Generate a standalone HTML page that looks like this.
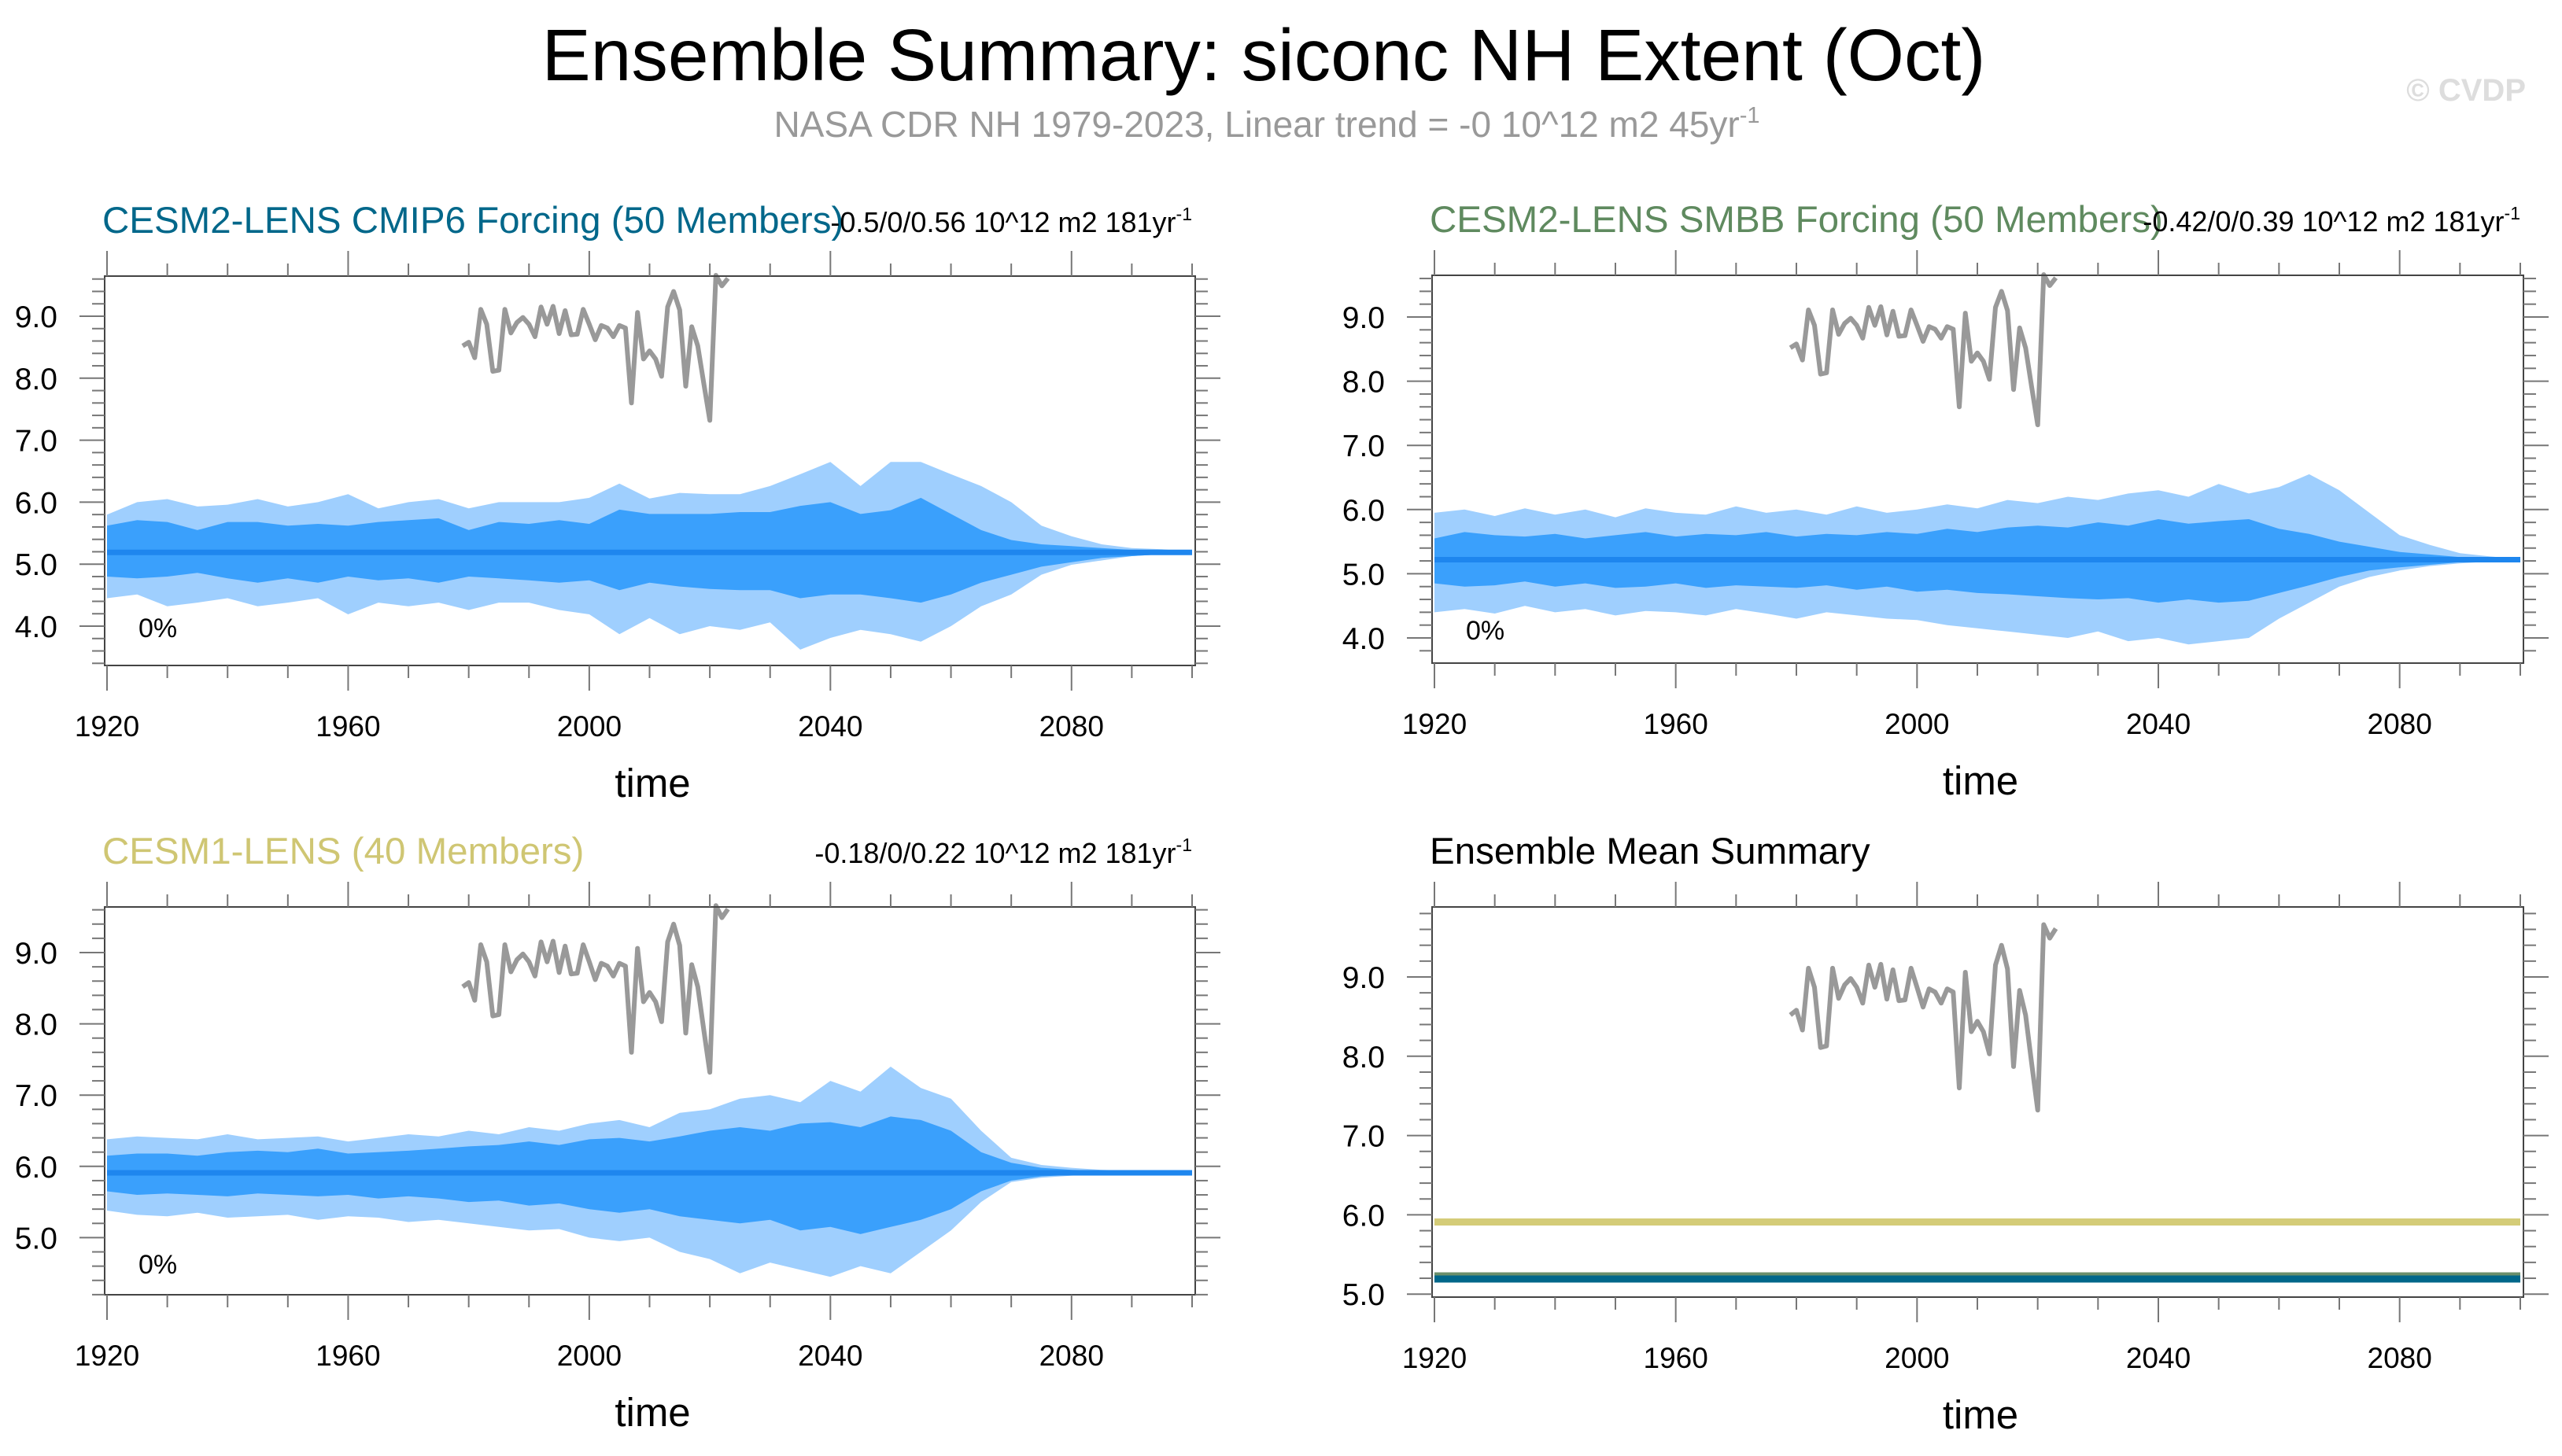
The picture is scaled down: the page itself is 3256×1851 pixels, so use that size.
<!DOCTYPE html>
<html><head><meta charset="utf-8">
<style>
html,body{margin:0;padding:0;background:#fff;}
svg{display:block;font-family:"Liberation Sans",sans-serif;}
</style></head>
<body>
<svg id="fig" width="3256" height="1851" viewBox="0 0 3256 1851" xmlns="http://www.w3.org/2000/svg">
<text x="1606" y="102" font-size="93" text-anchor="middle" fill="#000">Ensemble Summary: siconc NH Extent (Oct)</text>
<text x="1610" y="174" font-size="46" text-anchor="middle" fill="#999">NASA CDR NH 1979-2023, Linear trend = -0 10^12 m2 45yr<tspan font-size="29" dy="-18">-1</tspan></text>
<text x="3210" y="128" font-size="40" font-weight="bold" text-anchor="end" fill="#ddd">© CVDP</text>
</svg>
<script>
// ---- data ----
const bandYears = [1920,1925,1930,1935,1940,1945,1950,1955,1960,1965,1970,1975,1980,1985,1990,1995,2000,2005,2010,2015,2020,2025,2030,2035,2040,2045,2050,2055,2060,2065,2070,2075,2080,2085,2090,2095,2100];
const p1OuterHi = [5.8,6.0,6.05,5.93,5.96,6.05,5.93,6.0,6.13,5.9,6.0,6.05,5.9,6.0,6.0,6.0,6.07,6.3,6.06,6.15,6.13,6.13,6.26,6.45,6.65,6.26,6.65,6.65,6.45,6.26,6.0,5.62,5.45,5.32,5.26,5.24,5.2];
const p1InnerHi = [5.62,5.71,5.68,5.55,5.68,5.68,5.62,5.65,5.62,5.68,5.71,5.74,5.55,5.68,5.65,5.71,5.65,5.88,5.81,5.81,5.81,5.84,5.84,5.94,6.0,5.81,5.87,6.07,5.81,5.55,5.39,5.32,5.29,5.26,5.23,5.21,5.2];
const p1InnerLo = [4.8,4.77,4.8,4.86,4.77,4.7,4.77,4.7,4.8,4.74,4.77,4.7,4.8,4.77,4.74,4.7,4.74,4.58,4.7,4.64,4.6,4.58,4.58,4.45,4.51,4.51,4.45,4.38,4.51,4.7,4.83,4.96,5.03,5.1,5.13,5.16,5.19];
const p1OuterLo = [4.45,4.51,4.32,4.38,4.45,4.32,4.38,4.45,4.19,4.38,4.32,4.38,4.26,4.38,4.38,4.26,4.19,3.87,4.13,3.87,4.0,3.94,4.06,3.62,3.81,3.94,3.87,3.75,4.0,4.32,4.51,4.83,4.99,5.06,5.13,5.16,5.19];
const p1Mean = 5.19;
const p2OuterHi = [5.95,6.0,5.9,6.02,5.92,6.0,5.88,6.02,5.95,5.92,6.05,5.95,6.0,5.92,6.05,5.95,6.0,6.08,6.02,6.15,6.1,6.2,6.15,6.25,6.3,6.2,6.4,6.25,6.35,6.55,6.3,5.95,5.6,5.45,5.32,5.27,5.23];
const p2InnerHi = [5.55,5.65,5.6,5.58,5.62,5.55,5.6,5.65,5.58,5.62,5.6,5.65,5.58,5.62,5.6,5.65,5.62,5.7,5.65,5.72,5.75,5.72,5.8,5.75,5.85,5.78,5.82,5.85,5.7,5.62,5.5,5.42,5.34,5.3,5.26,5.24,5.23];
const p2InnerLo = [4.85,4.8,4.82,4.88,4.8,4.85,4.78,4.8,4.85,4.78,4.82,4.8,4.78,4.82,4.75,4.8,4.72,4.75,4.7,4.68,4.65,4.62,4.6,4.62,4.55,4.6,4.55,4.58,4.7,4.82,4.95,5.05,5.1,5.14,5.18,5.2,5.22];
const p2OuterLo = [4.4,4.45,4.38,4.5,4.4,4.45,4.35,4.42,4.4,4.35,4.45,4.38,4.3,4.4,4.35,4.3,4.28,4.2,4.15,4.1,4.05,4.0,4.1,3.95,4.0,3.9,3.95,4.0,4.3,4.55,4.8,4.95,5.05,5.12,5.16,5.19,5.22];
const p2Mean = 5.22;
const p3OuterHi = [6.38,6.42,6.4,6.38,6.45,6.38,6.4,6.42,6.35,6.4,6.45,6.42,6.5,6.45,6.55,6.5,6.6,6.65,6.55,6.75,6.8,6.95,7.0,6.9,7.2,7.05,7.4,7.1,6.95,6.5,6.12,6.02,5.98,5.95,5.94,5.92,5.91];
const p3InnerHi = [6.15,6.18,6.18,6.15,6.2,6.22,6.2,6.25,6.18,6.2,6.22,6.25,6.28,6.3,6.35,6.3,6.38,6.4,6.35,6.42,6.5,6.55,6.5,6.6,6.62,6.55,6.7,6.65,6.5,6.2,6.05,5.98,5.95,5.94,5.93,5.92,5.91];
const p3InnerLo = [5.65,5.6,5.62,5.6,5.58,5.62,5.6,5.58,5.6,5.55,5.58,5.55,5.5,5.52,5.45,5.48,5.4,5.35,5.4,5.3,5.25,5.2,5.25,5.1,5.15,5.05,5.15,5.25,5.4,5.65,5.8,5.86,5.88,5.89,5.9,5.91,5.91];
const p3OuterLo = [5.38,5.32,5.3,5.35,5.28,5.3,5.32,5.25,5.3,5.28,5.22,5.25,5.2,5.15,5.1,5.12,5.0,4.95,5.0,4.8,4.7,4.5,4.65,4.55,4.45,4.6,4.5,4.8,5.1,5.5,5.78,5.84,5.87,5.89,5.9,5.9,5.91];
const p3Mean = 5.91;
const obsYears = [1979,1980,1981,1982,1983,1984,1985,1986,1987,1988,1989,1990,1991,1992,1993,1994,1995,1996,1997,1998,1999,2000,2001,2002,2003,2004,2005,2006,2007,2008,2009,2010,2011,2012,2013,2014,2015,2016,2017,2018,2019,2020,2021,2022,2023];
const obsValues = [8.52,8.58,8.33,9.11,8.87,8.11,8.13,9.11,8.73,8.9,8.98,8.87,8.67,9.15,8.87,9.16,8.72,9.09,8.7,8.71,9.11,8.87,8.62,8.85,8.81,8.67,8.85,8.81,7.6,9.06,8.31,8.44,8.31,8.03,9.15,9.4,9.1,7.87,8.83,8.52,7.91,7.32,9.66,9.49,9.61];
const meanLabels = ["CESM2-LENS CMIP6 Forcing","CESM2-LENS SMBB Forcing","CESM1-LENS"];
const meanValues = [5.19,5.23,5.91];
const xTickLabels = ["1920","1960","2000","2040","2080"];
const xTickYears = [1920,1960,2000,2040,2080];

// ---- layout ----
const NS = "http://www.w3.org/2000/svg";
const fig = document.getElementById('fig');
function mk(tag, attrs, parent){ const e=document.createElementNS(NS,tag); for(const k in attrs) e.setAttribute(k,attrs[k]); (parent||fig).appendChild(e); return e; }

function makePanel(p){
  const g = mk('g',{});
  
  
  const xs = yr => p.x0 + (yr-1920)*(p.x1-p.x0)/180;
  const ys = v => p.y9 + (9-v)*p.u;
  p.xs=xs; p.ys=ys; p.g=g;
  if(p.bands){
    const b=p.bands;
    const poly=(hi,lo,fill,nm)=>{
      let d='';
      bandYears.forEach((yr,i)=>{ d+=(i?'L':'M')+xs(yr).toFixed(1)+','+ys(hi[i]).toFixed(1); });
      for(let i=bandYears.length-1;i>=0;i--) d+='L'+xs(bandYears[i]).toFixed(1)+','+ys(lo[i]).toFixed(1);
      const e=mk('path',{d:d+'Z',fill:fill},g);
      
      
    };
    poly(b[0],b[3],'#9fcffe','outer-spread-band');
    poly(b[1],b[2],'#3aa0fc','inner-spread-band');
    const m=mk('line',{x1:xs(1920),x2:xs(2100),y1:ys(p.mean),y2:ys(p.mean),stroke:'#1e86ee','stroke-width':7},g);
    
    
    const pc=mk('text',{x:p.x0+40,y:p.ys(p.pcY)+14,'font-size':34,fill:'#000'},g);
    pc.textContent='0%';
    
    
  }
  if(p.means){
    const cols=['#00678a','#6a8f6a','#d4cc78'];
    [2,1,0].forEach(i=>{
      const l=mk('line',{x1:xs(1920),x2:xs(2100),y1:ys(meanValues[i]),y2:ys(meanValues[i]),stroke:cols[i],'stroke-width':9},g);
      
      
    });
  }
  let d='';
  obsYears.forEach((yr,i)=>{ d+=(i?'L':'M')+xs(yr).toFixed(1)+','+ys(obsValues[i]).toFixed(1); });
  const ob=mk('path',{d:d,fill:'none',stroke:'#999','stroke-width':6,'stroke-linejoin':'round'},g);
  
  
  const bx0=p.x0-3, bx1=p.x1+4;
  const fr=mk('rect',{x:bx0,y:p.top,width:bx1-bx0,height:p.bot-p.top,fill:'none',stroke:'#444','stroke-width':2},g);
  
  
  for(let yr=1920; yr<=2100; yr+=10){
    const X=xs(yr);
    const len=(yr%40===0)?32:16;
    mk('line',{x1:X,x2:X,y1:p.bot,y2:p.bot+len,stroke:'#777','stroke-width':2},g);
    mk('line',{x1:X,x2:X,y1:p.top,y2:p.top-len,stroke:'#777','stroke-width':2},g);
  }
  xTickYears.forEach((yr,i)=>{
    const t=mk('text',{x:xs(yr),y:p.bot+90,'font-size':37,'text-anchor':'middle',fill:'#000'},g);
    t.textContent=xTickLabels[i];
    
    
  });
  const tt=mk('text',{x:(p.x0+p.x1)/2+4,y:p.bot+167,'font-size':51,'text-anchor':'middle',fill:'#000'},g);
  tt.textContent='time';
  
  
  const vmin=9-(p.bot-p.y9)/p.u, vmax=9+(p.y9-p.top)/p.u;
  for(let k=Math.ceil(vmin*5-1e-6); k<=Math.floor(vmax*5+1e-6); k++){
    const v=k/5, Y=ys(v), major=(k%5===0);
    const len=major?32:16;
    mk('line',{x1:bx0,x2:bx0-len,y1:Y,y2:Y,stroke:'#777','stroke-width':2},g);
    mk('line',{x1:bx1,x2:bx1+len,y1:Y,y2:Y,stroke:'#777','stroke-width':2},g);
    if(major){
      const t=mk('text',{x:bx0-60,y:Y+14,'font-size':39,'text-anchor':'end',fill:'#000'},g);
      t.textContent=v.toFixed(1);
      
      
    }
  }
  const ti=mk('text',{x:bx0-3,y:p.top-55,'font-size':47.5,fill:p.tcol},g);
  ti.textContent=p.title;
  
  
  if(p.stat){
    const st=mk('text',{x:bx1-4,y:p.top-56,'font-size':36,'text-anchor':'end',fill:'#000'},g);
    st.innerHTML=p.stat+'<tspan font-size="23" dy="-15">-1</tspan>';
    
    
  }
}

makePanel({name:'panel-cesm2-cmip6',x0:136,x1:1515,top:351,bot:846,y9:402,u:78.8,
  bands:[p1OuterHi,p1InnerHi,p1InnerLo,p1OuterLo],mean:p1Mean,pcY:4.0,
  title:'CESM2-LENS CMIP6 Forcing (50 Members)',tcol:'#00678a',stat:'-0.5/0/0.56 10^12 m2 181yr'});
makePanel({name:'panel-cesm2-smbb',x0:1823,x1:3203,top:350,bot:843,y9:403,u:81.6,
  bands:[p2OuterHi,p2InnerHi,p2InnerLo,p2OuterLo],mean:p2Mean,pcY:4.15,
  title:'CESM2-LENS SMBB Forcing (50 Members)',tcol:'#5f8a5f',stat:'-0.42/0/0.39 10^12 m2 181yr'});
makePanel({name:'panel-cesm1-lens',x0:136,x1:1515,top:1153,bot:1646,y9:1211,u:90.6,
  bands:[p3OuterHi,p3InnerHi,p3InnerLo,p3OuterLo],mean:p3Mean,pcY:4.65,
  title:'CESM1-LENS (40 Members)',tcol:'#cfc673',stat:'-0.18/0/0.22 10^12 m2 181yr'});
makePanel({name:'panel-ensemble-mean-summary',x0:1823,x1:3203,top:1153,bot:1649,y9:1242,u:100.8,
  means:true,title:'Ensemble Mean Summary',tcol:'#000'});
</script>
</body></html>
